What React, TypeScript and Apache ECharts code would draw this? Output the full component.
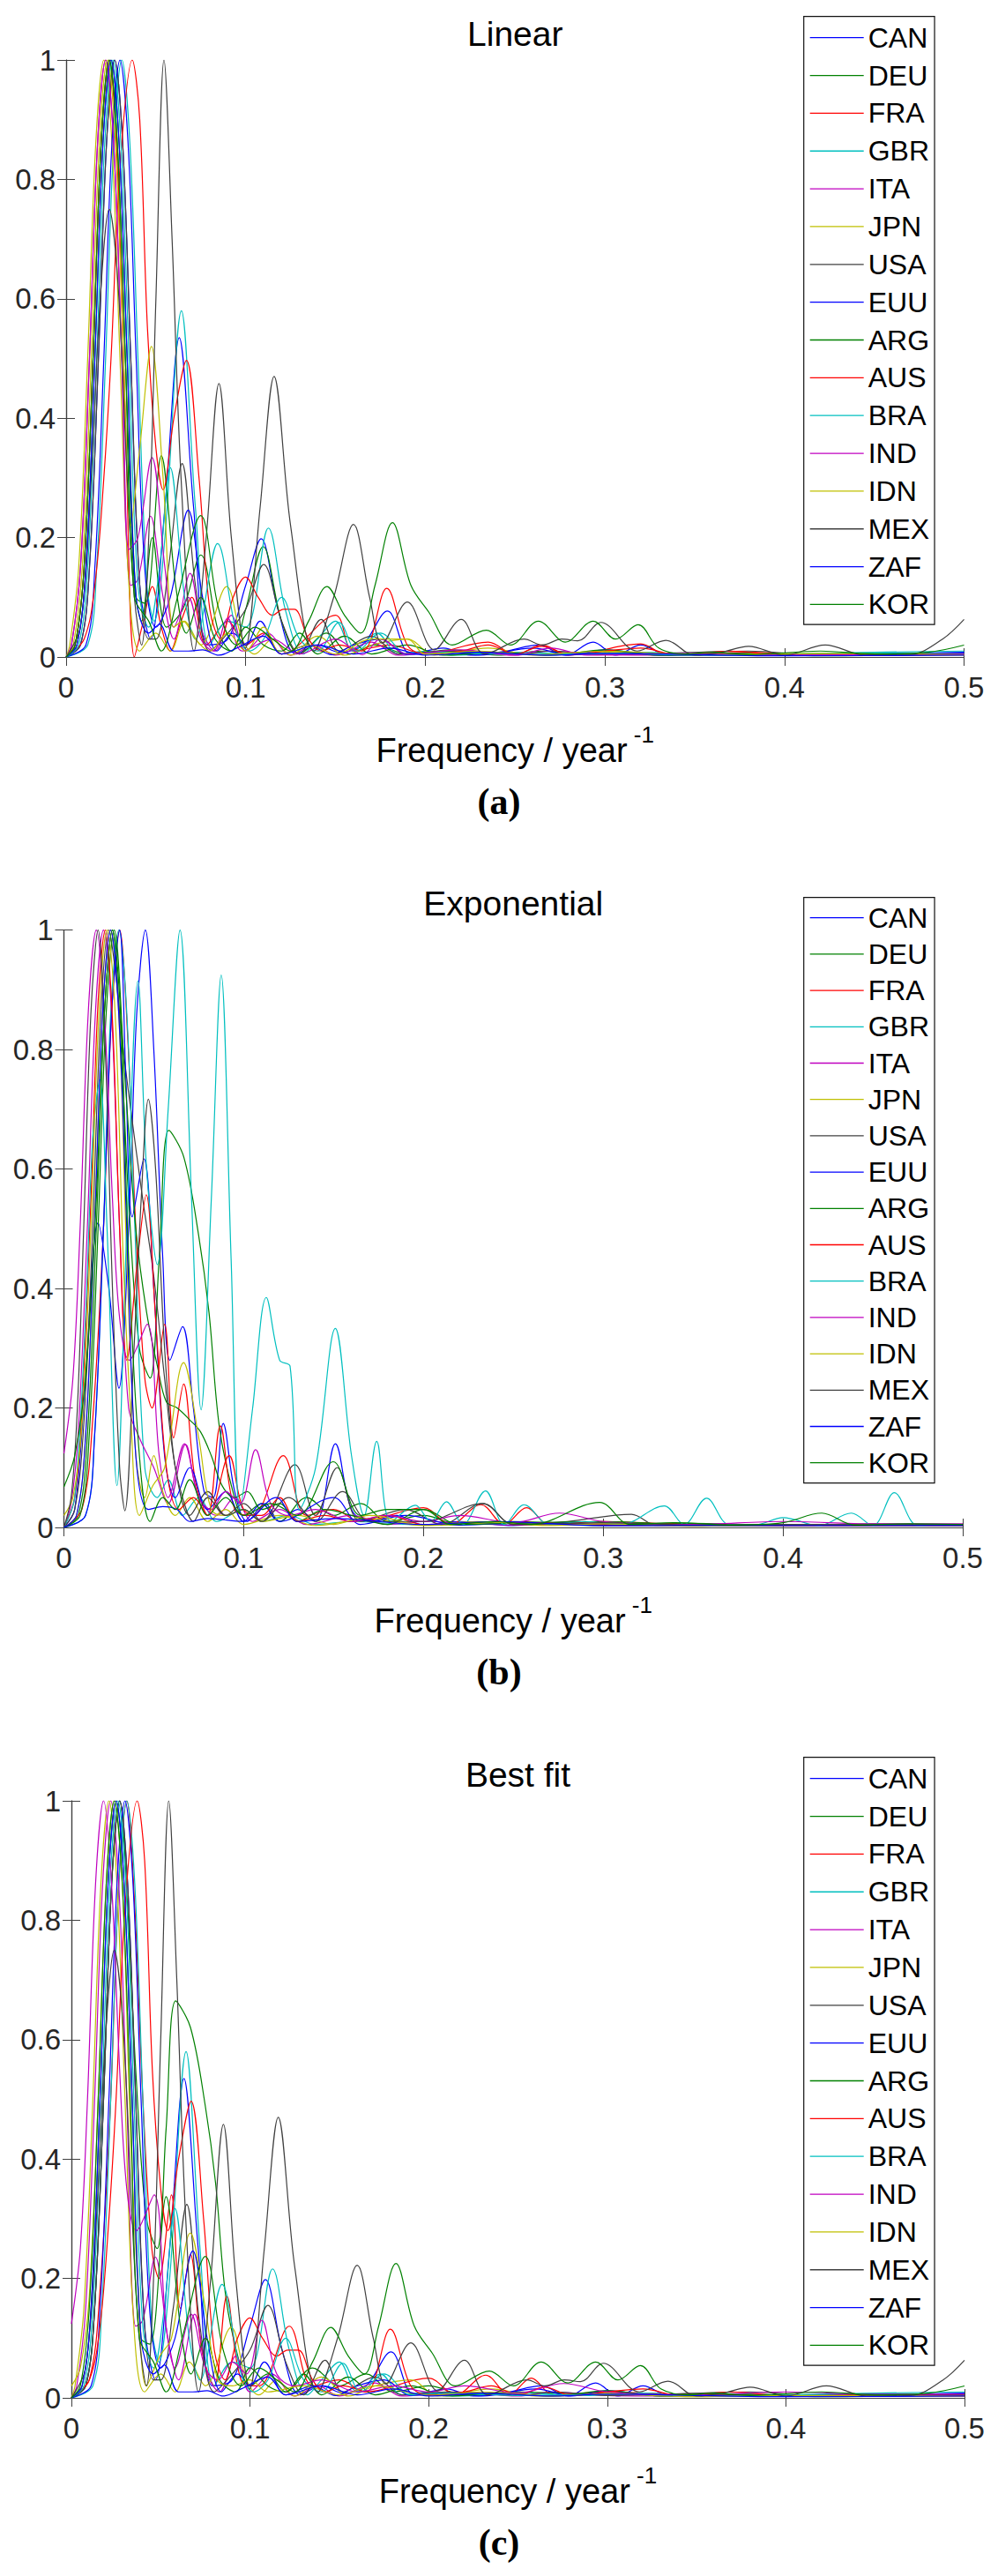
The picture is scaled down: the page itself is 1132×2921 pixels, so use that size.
import { useEffect, useRef } from "react";
import * as echarts from "echarts";

const countries = ["CAN", "DEU", "FRA", "GBR", "ITA", "JPN", "USA", "EUU", "ARG", "AUS", "BRA", "IND", "IDN", "MEX", "ZAF", "KOR"];
const colors = ["#0000ff", "#008000", "#ff0000", "#00bfbf", "#bf00bf", "#bfbf00", "#404040"];
const xTicks = [0, 0.1, 0.2, 0.3, 0.4, 0.5];
const yTicks = [0, 0.2, 0.4, 0.6, 0.8, 1];

// ---- Linear ----
const linCAN = [[0,0],[0.008,0.02],[0.013,0.15],[0.018,0.5],[0.0225,0.86],[0.027,1],[0.0315,0.86],[0.036,0.5],[0.041,0.12],[0.047,0.03],[0.055,0.25],[0.063,0.535],[0.071,0.25],[0.079,0.02],[0.09,0.03],[0.1,0.12],[0.1086,0.198],[0.118,0.08],[0.128,0.005],[0.14,0.02],[0.152,0.008],[0.165,0.02],[0.179,0.077],[0.192,0.005],[0.21,0.015],[0.225,0.003],[0.245,0.01],[0.263,0.02],[0.278,0.003],[0.2935,0.025],[0.306,0.003],[0.32,0.02],[0.335,0.003],[0.37,0.006],[0.4,0.003],[0.45,0.005],[0.5,0.008]];
const linDEU = [[0,0],[0.005,0.02],[0.01,0.15],[0.015,0.5],[0.0195,0.86],[0.024,1],[0.0285,0.86],[0.033,0.5],[0.038,0.12],[0.042,0.06],[0.048,0.2],[0.056,0.05],[0.065,0.08],[0.075,0.171],[0.085,0.04],[0.092,0.01],[0.1,0.08],[0.1097,0.185],[0.12,0.06],[0.13,0.005],[0.145,0.04],[0.158,0.005],[0.172,0.02],[0.19,0.005],[0.215,0.012],[0.24,0.003],[0.265,0.01],[0.29,0.004],[0.3,0.01],[0.33,0.003],[0.4,0.004],[0.5,0.005]];
const linFRA = [[0,0],[0.005,0.02],[0.01,0.15],[0.015,0.5],[0.0195,0.86],[0.024,1],[0.0285,0.82],[0.033,0.4],[0.038,0],[0.043,0.06],[0.048,0.118],[0.053,0.05],[0.058,0.01],[0.064,0.06],[0.07,0.1],[0.078,0.02],[0.09,0.06],[0.1,0.02],[0.11,0.04],[0.12,0.005],[0.15,0.07],[0.16,0.01],[0.18,0.02],[0.2,0.005],[0.235,0.025],[0.25,0.004],[0.265,0.02],[0.28,0.003],[0.32,0.022],[0.335,0.003],[0.38,0.008],[0.42,0.003],[0.5,0.004]];
const linGBR = [[0,0],[0.012,0.02],[0.017,0.15],[0.022,0.5],[0.0265,0.86],[0.031,1],[0.0355,0.86],[0.04,0.5],[0.045,0.12],[0.049,0.06],[0.055,0.2],[0.0642,0.58],[0.072,0.25],[0.08,0.02],[0.09,0.06],[0.1,0.05],[0.1126,0.216],[0.122,0.08],[0.132,0.005],[0.14,0.03],[0.15,0.06],[0.16,0.01],[0.173,0.04],[0.185,0.005],[0.2,0.01],[0.215,0.003],[0.25,0.008],[0.29,0.004],[0.32,0.008],[0.36,0.003],[0.45,0.007],[0.5,0.006]];
const linITA = [[0,0],[0.003,0.02],[0.008,0.15],[0.013,0.5],[0.0175,0.86],[0.022,1],[0.0265,0.86],[0.031,0.5],[0.036,0.12],[0.04,0.13],[0.047,0.236],[0.054,0.1],[0.06,0.03],[0.069,0.14],[0.076,0.04],[0.083,0.01],[0.092,0.07],[0.1,0.01],[0.112,0.04],[0.125,0.003],[0.138,0.02],[0.15,0.003],[0.17,0.025],[0.185,0.003],[0.215,0.01],[0.25,0.003],[0.27,0.01],[0.3,0.004],[0.35,0.003],[0.4,0.005],[0.5,0.004]];
const linJPN = [[0,0],[0.002,0.02],[0.007,0.15],[0.012,0.5],[0.0165,0.86],[0.021,1],[0.0255,0.86],[0.03,0.5],[0.035,0.12],[0.041,0.01],[0.05,0.04],[0.058,0.01],[0.066,0.06],[0.075,0.02],[0.0894,0.118],[0.098,0.03],[0.105,0.005],[0.115,0.03],[0.125,0.003],[0.14,0.035],[0.155,0.003],[0.17,0.02],[0.19,0.03],[0.205,0.003],[0.235,0.015],[0.26,0.003],[0.3,0.008],[0.35,0.003],[0.4,0.004],[0.5,0.003]];
const linUSA = [[0,0],[0.008,0.02],[0.013,0.15],[0.018,0.5],[0.0225,0.86],[0.027,1],[0.0315,0.86],[0.036,0.5],[0.041,0.12],[0.046,0.03],[0.05,0.03],[0.057,0.15],[0.0646,0.324],[0.072,0.12],[0.08,0.01],[0.09,0.04],[0.1,0.08],[0.11,0.155],[0.12,0.06],[0.13,0.005],[0.142,0.063],[0.152,0.01],[0.17,0.035],[0.185,0.005],[0.21,0.01],[0.25,0.004],[0.27,0.01],[0.3,0.004],[0.38,0.01],[0.42,0.003],[0.5,0.005]];
const linEUU = [[0,0],[0.011,0.02],[0.016,0.15],[0.021,0.5],[0.0255,0.86],[0.03,1],[0.0345,0.86],[0.039,0.5],[0.044,0.14],[0.05,0.05],[0.058,0.1],[0.068,0.246],[0.076,0.1],[0.084,0.01],[0.093,0.04],[0.1,0.02],[0.108,0.06],[0.12,0.005],[0.135,0.02],[0.148,0.004],[0.16,0.02],[0.175,0.03],[0.19,0.004],[0.21,0.008],[0.23,0.003],[0.26,0.015],[0.28,0.003],[0.3,0.012],[0.33,0.003],[0.4,0.004],[0.5,0.006]];
const linARG = [[0,0],[0.006,0.02],[0.011,0.15],[0.016,0.5],[0.0205,0.86],[0.025,1],[0.0295,0.86],[0.034,0.5],[0.039,0.1],[0.044,0.09],[0.053,0.337],[0.061,0.12],[0.067,0.04],[0.075,0.1],[0.083,0.03],[0.092,0.01],[0.1,0.05],[0.11,0.02],[0.12,0.01],[0.13,0.04],[0.14,0.005],[0.155,0.035],[0.17,0.005],[0.19,0.02],[0.21,0.003],[0.24,0.008],[0.27,0.003],[0.3,0.012],[0.33,0.003],[0.38,0.006],[0.42,0.002],[0.5,0.005]];
const linAUS = [[0,0],[0.01,0.03],[0.016,0.12],[0.021,0.3],[0.025,0.5],[0.03,0.82],[0.0368,1],[0.041,0.9],[0.0453,0.55],[0.05,0.35],[0.054,0.28],[0.06,0.4],[0.067,0.497],[0.074,0.3],[0.08,0.08],[0.086,0.03],[0.093,0.1],[0.0999,0.134],[0.107,0.1],[0.115,0.07],[0.121,0.08],[0.127,0.08],[0.135,0.03],[0.142,0.01],[0.152,0.02],[0.165,0.01],[0.1785,0.115],[0.19,0.02],[0.2,0.005],[0.22,0.01],[0.235,0.02],[0.25,0.005],[0.265,0.018],[0.28,0.004],[0.3,0.01],[0.32,0.015],[0.34,0.004],[0.37,0.01],[0.4,0.003],[0.45,0.005],[0.5,0.004]];
const linBRA = [[0,0],[0.007,0.02],[0.012,0.15],[0.017,0.5],[0.0215,0.86],[0.026,1],[0.0305,0.86],[0.035,0.5],[0.04,0.12],[0.046,0.05],[0.052,0.15],[0.058,0.317],[0.066,0.1],[0.072,0.03],[0.0843,0.19],[0.095,0.04],[0.102,0.01],[0.11,0.03],[0.12,0.1],[0.13,0.03],[0.14,0.01],[0.152,0.058],[0.162,0.01],[0.175,0.04],[0.19,0.005],[0.21,0.008],[0.25,0.004],[0.3,0.006],[0.35,0.003],[0.45,0.008],[0.5,0.01]];
const linIND = [[0,0],[0.003,0.02],[0.008,0.15],[0.013,0.5],[0.0175,0.86],[0.022,1],[0.0265,0.86],[0.031,0.5],[0.035,0.18],[0.04,0.2],[0.0478,0.334],[0.055,0.15],[0.06,0.05],[0.068,0.1],[0.075,0.03],[0.082,0.01],[0.09,0.065],[0.098,0.01],[0.115,0.03],[0.13,0.005],[0.15,0.03],[0.165,0.004],[0.175,0.03],[0.19,0.005],[0.22,0.012],[0.25,0.003],[0.27,0.015],[0.29,0.003],[0.35,0.006],[0.4,0.003],[0.5,0.005]];
const linIDN = [[0,0],[0.004,0.02],[0.009,0.15],[0.014,0.5],[0.0185,0.86],[0.023,1],[0.0275,0.86],[0.032,0.5],[0.036,0.22],[0.041,0.35],[0.0475,0.52],[0.054,0.3],[0.06,0.05],[0.065,0.06],[0.072,0.03],[0.08,0.01],[0.09,0.04],[0.1,0.01],[0.11,0.05],[0.12,0.005],[0.135,0.02],[0.15,0.005],[0.17,0.03],[0.19,0.03],[0.2,0.005],[0.23,0.01],[0.26,0.004],[0.3,0.01],[0.35,0.004],[0.42,0.006],[0.5,0.004]];
const linMEX = [[0,0],[0.008,0.05],[0.014,0.3],[0.019,0.6],[0.024,0.75],[0.029,0.62],[0.034,0.3],[0.038,0.1],[0.042,0.02],[0.046,0.2],[0.05,0.6],[0.0545,1],[0.059,0.7],[0.064,0.3],[0.0712,0.01],[0.078,0.2],[0.0851,0.458],[0.092,0.2],[0.0998,0.015],[0.108,0.25],[0.1158,0.47],[0.125,0.22],[0.138,0.01],[0.149,0.1],[0.16,0.222],[0.169,0.1],[0.176,0.023],[0.19,0.092],[0.205,0.012],[0.22,0.063],[0.233,0.005],[0.255,0.03],[0.265,0.02],[0.276,0.03],[0.285,0.027],[0.2977,0.058],[0.318,0.01],[0.334,0.028],[0.35,0.003],[0.365,0.008],[0.38,0.018],[0.4,0.003],[0.4227,0.02],[0.445,0.003],[0.47,0.004],[0.488,0.03],[0.5,0.063]];
const linZAF = [[0,0],[0.006,0.02],[0.011,0.15],[0.016,0.5],[0.0205,0.86],[0.025,1],[0.0295,0.86],[0.034,0.5],[0.039,0.1],[0.046,0.04],[0.052,0.055],[0.06,0.01],[0.068,0.01],[0.076,0.012],[0.085,0.003],[0.095,0.015],[0.11,0.035],[0.12,0.005],[0.14,0.02],[0.16,0.005],[0.18,0.015],[0.2,0.003],[0.23,0.008],[0.27,0.003],[0.3,0.006],[0.4,0.002],[0.5,0.003]];
const linKOR = [[0,0],[0.005,0.02],[0.01,0.15],[0.015,0.5],[0.0195,0.86],[0.024,1],[0.0285,0.86],[0.033,0.5],[0.038,0.1],[0.046,0.06],[0.053,0.01],[0.062,0.1],[0.075,0.237],[0.085,0.08],[0.095,0.02],[0.105,0.05],[0.115,0.03],[0.125,0.01],[0.135,0.06],[0.1452,0.118],[0.155,0.07],[0.164,0.04],[0.172,0.12],[0.1817,0.225],[0.192,0.12],[0.202,0.075],[0.215,0.02],[0.234,0.045],[0.2475,0.02],[0.263,0.06],[0.278,0.025],[0.2935,0.06],[0.306,0.03],[0.3185,0.054],[0.33,0.015],[0.345,0.005],[0.36,0.008],[0.38,0.004],[0.42,0.01],[0.45,0.005],[0.48,0.008],[0.5,0.02]];

// ---- Exponential ----
const expCAN = [[0,0],[0.006,0.03],[0.012,0.25],[0.019,0.51],[0.025,0.4],[0.0306,0.233],[0.036,0.5],[0.0405,0.86],[0.0453,1],[0.05,0.8],[0.055,0.45],[0.059,0.28],[0.066,0.336],[0.072,0.2],[0.078,0.06],[0.083,0.05],[0.0886,0.174],[0.095,0.06],[0.102,0.01],[0.112,0.04],[0.12,0.01],[0.13,0.03],[0.14,0.01],[0.151,0.14],[0.16,0.03],[0.17,0.01],[0.185,0.02],[0.2,0.004],[0.22,0.01],[0.25,0.003],[0.28,0.008],[0.3,0.004],[0.35,0.006],[0.4,0.003],[0.5,0.004]];
const expDEU = [[0,0],[0.008,0.02],[0.013,0.15],[0.018,0.5],[0.0225,0.86],[0.027,1],[0.0315,0.82],[0.036,0.55],[0.042,0.3],[0.048,0.25],[0.053,0.45],[0.0584,0.665],[0.0667,0.62],[0.0749,0.49],[0.0807,0.36],[0.0864,0.17],[0.094,0.06],[0.1,0.02],[0.11,0.04],[0.12,0.01],[0.135,0.05],[0.15,0.02],[0.165,0.04],[0.18,0.01],[0.2,0.02],[0.22,0.005],[0.25,0.01],[0.3,0.005],[0.35,0.007],[0.4,0.003],[0.45,0.006],[0.5,0.004]];
const expFRA = [[0,0],[0.01,0.03],[0.016,0.18],[0.022,0.5],[0.0265,0.86],[0.031,1],[0.0355,0.82],[0.04,0.5],[0.045,0.25],[0.049,0.2],[0.056,0.34],[0.061,0.15],[0.0666,0.24],[0.073,0.08],[0.08,0.02],[0.087,0.17],[0.095,0.03],[0.105,0.02],[0.122,0.12],[0.135,0.02],[0.15,0.03],[0.165,0.01],[0.2,0.033],[0.215,0.005],[0.232,0.038],[0.245,0.005],[0.2574,0.033],[0.27,0.005],[0.3,0.01],[0.35,0.005],[0.4,0.005],[0.5,0.003]];
const expGBR = [[0,0],[0.012,0.02],[0.017,0.15],[0.022,0.5],[0.026,0.86],[0.0306,1],[0.035,0.86],[0.0395,0.5],[0.045,0.1],[0.052,0.05],[0.058,0.08],[0.066,0.02],[0.075,0.05],[0.085,0.01],[0.1,0.03],[0.11,0.01],[0.125,0.02],[0.14,0.005],[0.16,0.01],[0.2,0.004],[0.25,0.006],[0.3,0.003],[0.4,0.004],[0.5,0.003]];
const expITA = [[0,0],[0.004,0.04],[0.008,0.16],[0.013,0.5],[0.0175,0.86],[0.022,1],[0.0265,0.86],[0.031,0.5],[0.036,0.2],[0.042,0.15],[0.05,0.1],[0.058,0.04],[0.0676,0.139],[0.075,0.05],[0.085,0.02],[0.095,0.05],[0.105,0.01],[0.12,0.03],[0.135,0.005],[0.16,0.02],[0.18,0.005],[0.2,0.01],[0.25,0.004],[0.3,0.006],[0.4,0.003],[0.5,0.004]];
const expJPN = [[0,0],[0.007,0.02],[0.012,0.15],[0.017,0.5],[0.0215,0.86],[0.026,1],[0.0305,0.86],[0.035,0.45],[0.04,0.12],[0.045,0.05],[0.05,0.12],[0.055,0.06],[0.062,0.02],[0.07,0.05],[0.08,0.01],[0.09,0.03],[0.1,0.005],[0.12,0.02],[0.14,0.003],[0.17,0.015],[0.2,0.003],[0.25,0.008],[0.3,0.003],[0.4,0.004],[0.5,0.003]];
const expUSA = [[0,0],[0.006,0.03],[0.011,0.17],[0.016,0.5],[0.0205,0.86],[0.025,1],[0.029,0.92],[0.033,0.8],[0.0429,0.57],[0.05,0.42],[0.056,0.25],[0.062,0.1],[0.07,0.02],[0.08,0.06],[0.09,0.02],[0.1,0.04],[0.11,0.01],[0.1285,0.105],[0.14,0.02],[0.152,0.1],[0.165,0.01],[0.19,0.03],[0.21,0.005],[0.233,0.04],[0.25,0.005],[0.28,0.01],[0.3157,0.022],[0.33,0.003],[0.4,0.005],[0.5,0.004]];
const expEUU = [[0,0],[0.012,0.02],[0.017,0.15],[0.022,0.5],[0.0265,0.86],[0.031,1],[0.0345,0.75],[0.038,0.52],[0.0445,0.617],[0.05,0.4],[0.056,0.12],[0.062,0.05],[0.07,0.1],[0.08,0.03],[0.09,0.06],[0.1,0.01],[0.11,0.04],[0.12,0.01],[0.15,0.05],[0.165,0.005],[0.19,0.02],[0.22,0.004],[0.26,0.008],[0.3,0.003],[0.4,0.004],[0.5,0.003]];
const expARG = [[0,0],[0.009,0.02],[0.014,0.15],[0.019,0.5],[0.0235,0.86],[0.028,1],[0.034,0.75],[0.04,0.5],[0.046,0.36],[0.052,0.27],[0.057,0.21],[0.063,0.2],[0.07,0.18],[0.076,0.16],[0.082,0.12],[0.088,0.07],[0.095,0.05],[0.102,0.06],[0.11,0.03],[0.12,0.04],[0.13,0.01],[0.145,0.03],[0.16,0.02],[0.18,0.005],[0.2,0.03],[0.22,0.005],[0.26,0.008],[0.3,0.01],[0.35,0.004],[0.4,0.003],[0.5,0.004]];
const expAUS = [[0,0],[0.006,0.05],[0.01,0.2],[0.015,0.55],[0.019,0.88],[0.023,1],[0.027,0.85],[0.031,0.5],[0.035,0.28],[0.041,0.45],[0.0458,0.557],[0.051,0.35],[0.057,0.1],[0.064,0.03],[0.072,0.05],[0.08,0.02],[0.0919,0.12],[0.1,0.03],[0.11,0.02],[0.12,0.05],[0.13,0.01],[0.145,0.02],[0.16,0.01],[0.18,0.02],[0.2,0.005],[0.24,0.01],[0.3,0.004],[0.4,0.003],[0.5,0.003]];
const expBRA = [[0,0],[0.006,0.05],[0.012,0.35],[0.016,0.65],[0.02,0.75],[0.024,0.5],[0.0295,0.07],[0.035,0.5],[0.0412,0.915],[0.046,0.6],[0.052,0.44],[0.058,0.7],[0.0646,1],[0.071,0.55],[0.0763,0.197],[0.082,0.55],[0.0875,0.925],[0.093,0.45],[0.098,0.03],[0.105,0.2],[0.1126,0.385],[0.12,0.28],[0.1258,0.27],[0.131,0.03],[0.14,0.1],[0.151,0.333],[0.16,0.12],[0.167,0.02],[0.174,0.144],[0.182,0.01],[0.1955,0.037],[0.204,0.01],[0.2128,0.043],[0.222,0.005],[0.2345,0.061],[0.245,0.005],[0.256,0.038],[0.27,0.005],[0.29,0.01],[0.31,0.005],[0.334,0.036],[0.345,0.005],[0.3575,0.049],[0.37,0.005],[0.385,0.005],[0.4,0.0165],[0.42,0.003],[0.438,0.024],[0.45,0.003],[0.462,0.058],[0.475,0.003],[0.49,0.005],[0.5,0.004]];
const expIND = [[0,0.124],[0.005,0.25],[0.009,0.5],[0.0135,0.86],[0.018,1],[0.0225,0.86],[0.027,0.55],[0.031,0.35],[0.0364,0.28],[0.0463,0.34],[0.053,0.12],[0.058,0.05],[0.067,0.14],[0.075,0.05],[0.082,0.03],[0.09,0.06],[0.098,0.04],[0.1066,0.13],[0.115,0.04],[0.125,0.02],[0.14,0.03],[0.16,0.01],[0.18,0.02],[0.2,0.01],[0.22,0.02],[0.25,0.008],[0.2757,0.024],[0.3,0.01],[0.35,0.005],[0.4,0.01],[0.45,0.006],[0.5,0.006]];
const expIDN = [[0,0.02],[0.005,0.05],[0.01,0.17],[0.015,0.5],[0.0195,0.86],[0.024,1],[0.0285,0.86],[0.033,0.45],[0.037,0.2],[0.042,0.02],[0.0495,0.07],[0.056,0.1],[0.0666,0.276],[0.075,0.15],[0.082,0.03],[0.09,0.02],[0.1,0.03],[0.11,0.01],[0.13,0.02],[0.15,0.005],[0.17,0.02],[0.2,0.004],[0.23,0.01],[0.27,0.003],[0.3,0.006],[0.35,0.002],[0.4,0.004],[0.5,0.003]];
const expMEX = [[0,0],[0.004,0.05],[0.0075,0.2],[0.011,0.5],[0.015,0.86],[0.019,1],[0.023,0.8],[0.027,0.4],[0.031,0.1],[0.0339,0.028],[0.039,0.3],[0.043,0.55],[0.047,0.717],[0.051,0.6],[0.056,0.3],[0.061,0.12],[0.066,0.05],[0.072,0.01],[0.08,0.05],[0.09,0.02],[0.1,0.03],[0.11,0.01],[0.125,0.05],[0.14,0.01],[0.155,0.06],[0.17,0.01],[0.2,0.01],[0.233,0.04],[0.25,0.005],[0.3,0.008],[0.35,0.004],[0.4,0.005],[0.5,0.004]];
const expZAF = [[0,0],[0.007,0.02],[0.012,0.15],[0.017,0.5],[0.0215,0.86],[0.026,1],[0.0305,0.86],[0.035,0.5],[0.04,0.12],[0.047,0.03],[0.055,0.035],[0.063,0.03],[0.07,0.01],[0.08,0.015],[0.1,0.01],[0.118,0.05],[0.13,0.01],[0.15,0.015],[0.2,0.005],[0.24,0.01],[0.3,0.003],[0.4,0.003],[0.5,0.003]];
const expKOR = [[0,0.068],[0.006,0.12],[0.012,0.25],[0.018,0.55],[0.0225,0.86],[0.027,1],[0.0315,0.86],[0.036,0.45],[0.042,0.12],[0.048,0.01],[0.055,0.05],[0.062,0.03],[0.07,0.08],[0.08,0.02],[0.09,0.05],[0.1,0.02],[0.115,0.04],[0.13,0.02],[0.1498,0.11],[0.165,0.02],[0.18,0.03],[0.2,0.03],[0.215,0.005],[0.24,0.01],[0.26,0.005],[0.298,0.042],[0.315,0.005],[0.34,0.008],[0.37,0.004],[0.4,0.008],[0.4216,0.024],[0.44,0.004],[0.47,0.006],[0.5,0.005]];

const linear = [linCAN, linDEU, linFRA, linGBR, linITA, linJPN, linUSA, linEUU, linARG, linAUS, linBRA, linIND, linIDN, linMEX, linZAF, linKOR];
const exponential = [expCAN, expDEU, expFRA, expGBR, expITA, expJPN, expUSA, expEUU, expARG, expAUS, expBRA, expIND, expIDN, expMEX, expZAF, expKOR];
// best fit picks the exponential detrend for DEU, FRA, IND and IDN
const bestFit = [linCAN, expDEU, expFRA, linGBR, linITA, linJPN, linUSA, linEUU, linARG, linAUS, linBRA, expIND, expIDN, linMEX, linZAF, linKOR];

const panels = [
  { title: "Linear", caption: "(a)", data: linear, left: 75, right: 1093.5, top: 68, bottom: 745, legendTop: 18.7, legendGap: 8.85, legendPad: [7, 6, 5.6, 7] },
  { title: "Exponential", caption: "(b)", data: exponential, left: 72.5, right: 1092, top: 1054.7, bottom: 1732, legendTop: 1017.7, legendGap: 7.2, legendPad: [6, 6, 6, 7] },
  { title: "Best fit", caption: "(c)", data: bestFit, left: 81, right: 1094, top: 2042, bottom: 2719, legendTop: 1992.7, legendGap: 8.85, legendPad: [7, 6, 5.6, 7] },
];

const FONT = "Liberation Sans";
const AXIS = "#404040";

function App() {
  const chartRef = useRef(null);

  useEffect(() => {
    document.body.style.margin = "0";
    const chart = echarts.init(chartRef.current, null, { renderer: "svg" });

    const grid: any[] = [];
    const xAxis: any[] = [];
    const yAxis: any[] = [];
    const series: any[] = [];
    const legend: any[] = [];
    const graphic: any[] = [];

    panels.forEach((p, i) => {
      grid.push({ left: p.left, top: p.top, width: p.right - p.left, height: p.bottom - p.top });
      const tick = { show: true, inside: true, length: 10, lineStyle: { color: AXIS, width: 1 } };
      const line = { show: true, lineStyle: { color: AXIS, width: 1.2 } };
      xAxis.push({
        type: "value", gridIndex: i, min: xTicks[0], max: xTicks[xTicks.length - 1], interval: 0.1,
        axisLine: line, axisTick: tick, splitLine: { show: false },
        axisLabel: { margin: 18, fontSize: 33, fontFamily: FONT, color: "#262626" },
      });
      xAxis.push({
        type: "value", gridIndex: i, position: "top", min: 0, max: 0.5, interval: 0.1,
        axisLine: line, axisTick: tick, splitLine: { show: false }, axisLabel: { show: false },
      });
      yAxis.push({
        type: "value", gridIndex: i, min: yTicks[0], max: yTicks[yTicks.length - 1], interval: 0.2,
        axisLine: line, axisTick: tick, splitLine: { show: false },
        axisLabel: { margin: 12, fontSize: 33, fontFamily: FONT, color: "#262626" },
      });
      yAxis.push({
        type: "value", gridIndex: i, position: "right", min: 0, max: 1, interval: 0.2,
        axisLine: line, axisTick: tick, splitLine: { show: false }, axisLabel: { show: false },
      });

      p.data.forEach((d, j) => {
        series.push({
          type: "line", name: countries[j], xAxisIndex: i * 2, yAxisIndex: i * 2,
          data: d, smooth: 0.35, symbol: "none", clip: true,
          lineStyle: { width: 1.2, color: colors[j % 7] }, itemStyle: { color: colors[j % 7] },
        });
      });

      legend.push({
        data: countries, orient: "vertical", left: 911.7, top: p.legendTop,
        padding: p.legendPad, itemGap: p.legendGap, itemWidth: 61, itemHeight: 1.3, icon: "rect",
        backgroundColor: "#fff", borderColor: "#111", borderWidth: 1.2, selectedMode: false,
        textStyle: { fontSize: 32, lineHeight: 34, fontFamily: FONT, color: "#000" },
      });

      const cx = (p.left + p.right) / 2;
      graphic.push({
        type: "text",
        style: { text: p.title, x: cx, y: p.top - 30, fontSize: 39, fontFamily: FONT, fill: "#000", textAlign: "center", textVerticalAlign: "middle" },
      });
      graphic.push({
        type: "text",
        style: {
          x: cx, y: p.bottom + 100, textAlign: "center", textVerticalAlign: "middle",
          text: "{a|Frequency / year}{b| -1}",
          rich: {
            a: { fontSize: 38, fontFamily: FONT, fill: "#000", lineHeight: 50, verticalAlign: "bottom" },
            b: { fontSize: 26, fontFamily: FONT, fill: "#000", lineHeight: 50, verticalAlign: "top" },
          },
        },
      });
      graphic.push({
        type: "text",
        style: { text: p.caption, x: 566, y: p.bottom + 164, fontSize: 42, fontWeight: "bold", fontFamily: "Liberation Serif", fill: "#000", textAlign: "center", textVerticalAlign: "middle" },
      });
    });

    chart.setOption({
      animation: false,
      backgroundColor: "#fff",
      grid, xAxis, yAxis, series, legend, graphic,
    });

    return () => {
      chart.dispose();
    };
  }, []);

  return <div ref={chartRef} style={{ width: "1132px", height: "2921px" }} />;
}

export default App;
